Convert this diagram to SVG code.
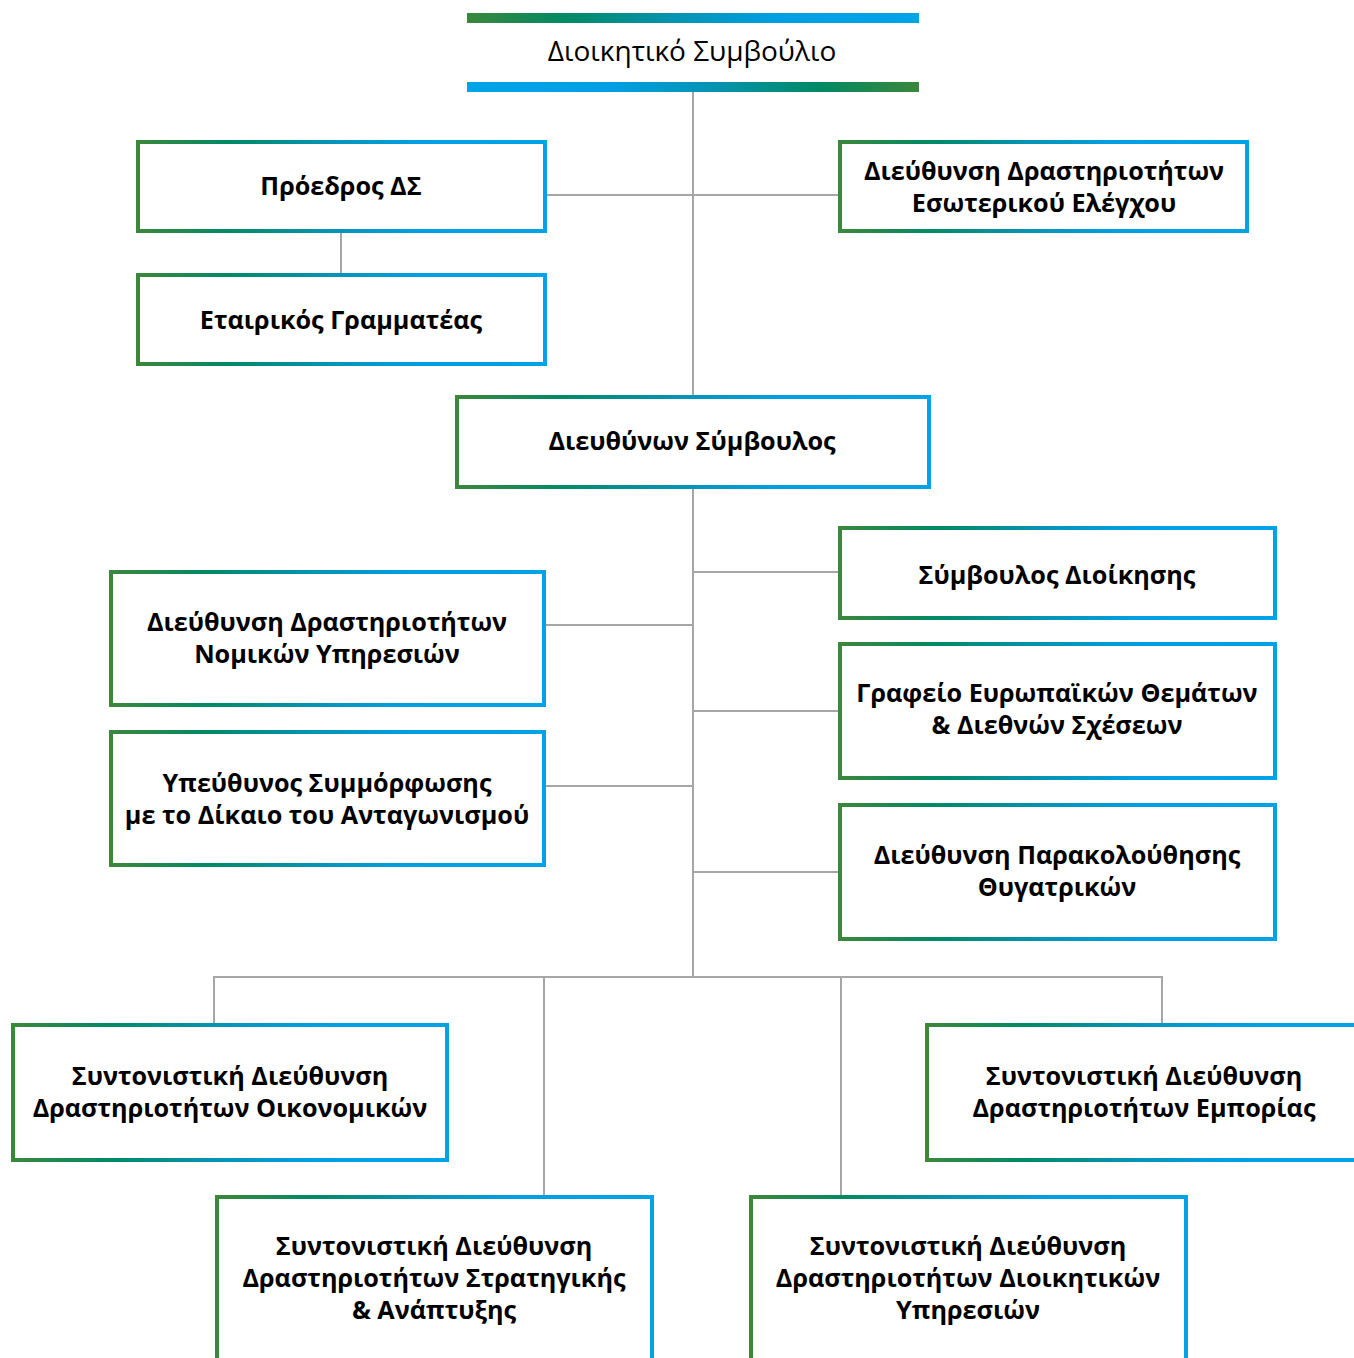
<svg xmlns="http://www.w3.org/2000/svg" width="1354" height="1358" viewBox="0 0 1354 1358">
<defs>
<linearGradient id="gb" x1="0" y1="0" x2="1" y2="0">
<stop offset="0" stop-color="#3b873b"/>
<stop offset="0.22" stop-color="#008a64"/>
<stop offset="0.45" stop-color="#0593b0"/>
<stop offset="0.68" stop-color="#009fe3"/>
<stop offset="1" stop-color="#00a3e8"/>
</linearGradient>
<linearGradient id="bg" x1="0" y1="0" x2="1" y2="0">
<stop offset="0" stop-color="#00a3e8"/>
<stop offset="0.32" stop-color="#009fe3"/>
<stop offset="0.55" stop-color="#0593b0"/>
<stop offset="0.78" stop-color="#008a64"/>
<stop offset="1" stop-color="#3b873b"/>
</linearGradient>
<style>
.box{fill:#fff;stroke:url(#gb);stroke-width:4}
.t{font-family:"Open Sans","DejaVu Sans",sans-serif;font-weight:700;font-size:25.2px;fill:#000;text-anchor:middle}
.title{font-family:"Open Sans","DejaVu Sans",sans-serif;font-weight:400;font-size:28px;fill:#000;text-anchor:middle}
.c{fill:none;stroke:#a6a6a6;stroke-width:2}
</style>
</defs>
<rect width="1354" height="1358" fill="#fff"/>
<g id="connectors">
<path class="c" d="M693 92V977"/>
<path class="c" d="M547 195H840"/>
<path class="c" d="M341 233V275"/>
<path class="c" d="M693 572H840M693 711H840M693 872H840"/>
<path class="c" d="M546 625H693M546 786H693"/>
<path class="c" d="M214 1025V977H1162V1025"/>
<path class="c" d="M544 977V1197M841 977V1197"/>
</g>
<g id="board">
<rect x="467" y="13" width="452" height="10" fill="url(#gb)"/>
<rect x="467" y="82" width="452" height="10" fill="url(#bg)"/>
<text class="title" x="692" y="61">Διοικητικό Συμβούλιο</text>
</g>
<g id="chairman">
<rect class="box" x="138" y="142" width="407" height="89"/>
<text class="t" x="341" y="195">Πρόεδρος ΔΣ</text>
</g>
<g id="secretary">
<rect class="box" x="138" y="275" width="407" height="89"/>
<text class="t" x="341" y="329">Εταιρικός Γραμματέας</text>
</g>
<g id="internal-audit">
<rect class="box" x="840" y="142" width="407" height="89"/>
<text class="t" x="1044" y="180">Διεύθυνση Δραστηριοτήτων</text>
<text class="t" x="1044" y="212">Εσωτερικού Ελέγχου</text>
</g>
<g id="ceo">
<rect class="box" x="457" y="397" width="472" height="90"/>
<text class="t" x="692" y="450">Διευθύνων Σύμβουλος</text>
</g>
<g id="advisor">
<rect class="box" x="840" y="528" width="435" height="90"/>
<text class="t" x="1057" y="584">Σύμβουλος Διοίκησης</text>
</g>
<g id="european">
<rect class="box" x="840" y="644" width="435" height="134"/>
<text class="t" x="1057" y="702">Γραφείο Ευρωπαϊκών Θεμάτων</text>
<text class="t" x="1057" y="734">&amp; Διεθνών Σχέσεων</text>
</g>
<g id="subsidiaries">
<rect class="box" x="840" y="805" width="435" height="134"/>
<text class="t" x="1057" y="864">Διεύθυνση Παρακολούθησης</text>
<text class="t" x="1057" y="896">Θυγατρικών</text>
</g>
<g id="legal">
<rect class="box" x="111" y="572" width="433" height="133"/>
<text class="t" x="327" y="631">Διεύθυνση Δραστηριοτήτων</text>
<text class="t" x="327" y="663">Νομικών Υπηρεσιών</text>
</g>
<g id="compliance">
<rect class="box" x="111" y="732" width="433" height="133"/>
<text class="t" x="327" y="792">Υπεύθυνος Συμμόρφωσης</text>
<text class="t" x="327" y="824">με το Δίκαιο του Ανταγωνισμού</text>
</g>
<g id="finance">
<rect class="box" x="13" y="1025" width="434" height="135"/>
<text class="t" x="230" y="1085">Συντονιστική Διεύθυνση</text>
<text class="t" x="230" y="1117">Δραστηριοτήτων Οικονομικών</text>
</g>
<g id="commerce">
<rect class="box" x="927" y="1025" width="434" height="135"/>
<text class="t" x="1144" y="1085">Συντονιστική Διεύθυνση</text>
<text class="t" x="1144" y="1117">Δραστηριοτήτων Εμπορίας</text>
</g>
<g id="strategy">
<rect class="box" x="217" y="1197" width="435" height="200"/>
<text class="t" x="434" y="1255">Συντονιστική Διεύθυνση</text>
<text class="t" x="434" y="1287">Δραστηριοτήτων Στρατηγικής</text>
<text class="t" x="434" y="1319">&amp; Ανάπτυξης</text>
</g>
<g id="admin">
<rect class="box" x="751" y="1197" width="435" height="200"/>
<text class="t" x="968" y="1255">Συντονιστική Διεύθυνση</text>
<text class="t" x="968" y="1287">Δραστηριοτήτων Διοικητικών</text>
<text class="t" x="968" y="1319">Υπηρεσιών</text>
</g>
</svg>
